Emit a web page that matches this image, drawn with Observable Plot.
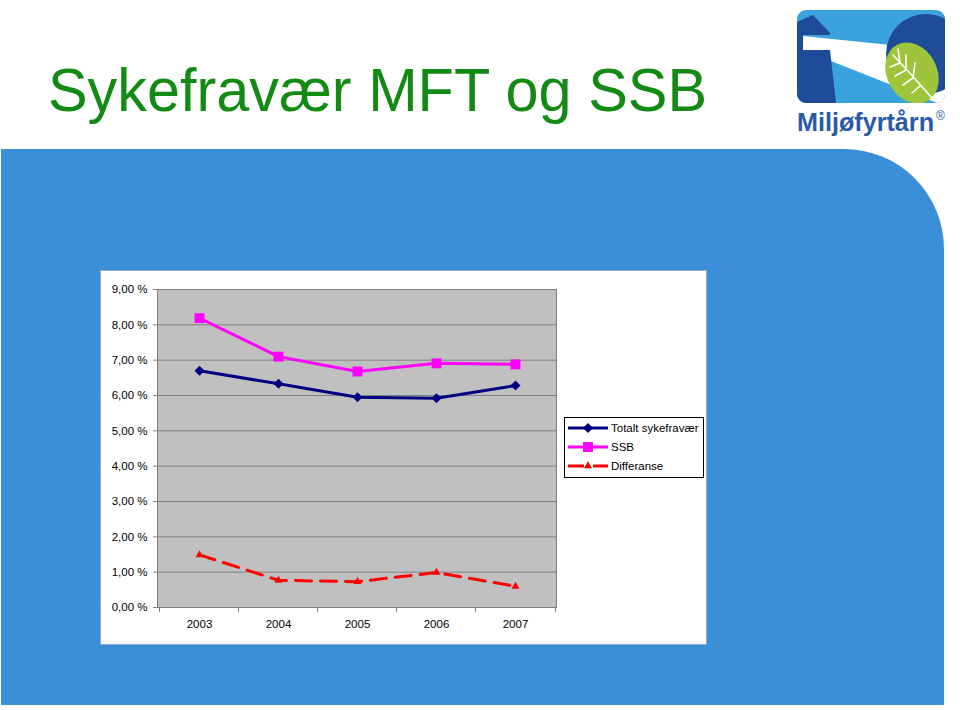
<!DOCTYPE html>
<html><head><meta charset="utf-8">
<script src="https://cdn.jsdelivr.net/npm/d3@7"></script>
<script src="https://cdn.jsdelivr.net/npm/@observablehq/plot@0.6"></script>
<style>
body{margin:0;width:960px;height:710px;position:relative;background:#fff;overflow:hidden;font-family:"Liberation Sans",Arial,sans-serif}
#bg{position:absolute;left:0;top:0}
#chart{position:absolute;left:100px;top:270px}
#legend{position:absolute;left:564px;top:417px}
</style></head><body>
<svg id="bg" width="960" height="710" viewBox="0 0 960 710">
  <!-- title -->
  <text x="48" y="111" font-family="Liberation Sans, Arial, sans-serif" font-size="62" fill="#138a13" textLength="659" lengthAdjust="spacingAndGlyphs">Sykefravær MFT og SSB</text>
  <!-- logo -->
  <defs>
    <clipPath id="card"><rect x="797" y="10" width="148" height="93" rx="9"/></clipPath>
  </defs>
  <g clip-path="url(#card)">
    <rect x="797" y="10" width="148" height="93" fill="#3aa3de"/>
    <polygon points="803,36 900,46 960,100 960,112 803,50" fill="#ffffff"/>
    <polygon points="797,50 830,50 836,103 797,103" fill="#1f4c98"/>
    <polygon points="797,35 797,22 813,15 830,33 830,35" fill="#1f4c98"/>
    <rect x="797" y="35" width="6" height="15" fill="#1f4c98"/>
    <circle cx="926" cy="54" r="40" fill="#1f4c98"/>
    <ellipse cx="912" cy="73" rx="25" ry="32" transform="rotate(-28 912 73)" fill="#9dc43a"/>
    <g stroke="#ffffff" stroke-width="1.6" fill="none" stroke-linecap="round">
      <path d="M893 55 Q912 75 932 98"/>
      <path d="M900 63 L898 49"/><path d="M906 70 L906 55"/><path d="M913 78 L915 63"/>
      <path d="M900 63 L890 67"/><path d="M906 70 L895 76"/><path d="M913 78 L903 85"/><path d="M920 86 L912 93"/>
    </g>
  </g>
  <text x="797" y="131" font-family="Liberation Sans, Arial, sans-serif" font-weight="bold" font-size="25" fill="#2a5aa6" textLength="137" lengthAdjust="spacingAndGlyphs">Miljøfyrtårn</text>
  <text x="936" y="120" font-family="Liberation Sans, Arial, sans-serif" font-size="12" fill="#2a5aa6">®</text>
  <!-- blue panel -->
  <path d="M1 149 H844 A100 100 0 0 1 944 249 V705 H1 Z" fill="#3a8fd8"/>
  <!-- white chart box -->
  <rect x="100.5" y="270.5" width="606" height="374" fill="#ffffff" stroke="#8fa8c8" stroke-width="1"/>
</svg>
<div id="chart"></div>
<div id="legend"></div>
<script>
const years = ["2003", "2004", "2005", "2006", "2007"];
const totalt = [6.70, 6.33, 5.95, 5.92, 6.28];
const ssb = [8.19, 7.10, 6.68, 6.91, 6.88];
const differanse = [1.49, 0.77, 0.73, 0.99, 0.60];
const yTicks = [0, 1, 2, 3, 4, 5, 6, 7, 8, 9];
const yTickLabels = ["0,00 %", "1,00 %", "2,00 %", "3,00 %", "4,00 %", "5,00 %", "6,00 %", "7,00 %", "8,00 %", "9,00 %"];
const seriesNames = ["Totalt sykefravær", "SSB", "Differanse"];
const seriesColors = ["#000080", "#ff00ff", "#ff0000"];

const chart = Plot.plot({
  width: 606,
  height: 375,
  marginLeft: 57,
  marginRight: 150,
  marginTop: 19,
  marginBottom: 38,
  style: {background: "transparent", fontFamily: "Liberation Sans, Arial, sans-serif", fontSize: "11.5px", color: "#000"},
  x: {type: "point", domain: years, padding: 0.5, label: null, tickSize: 0, tickPadding: 12},
  y: {domain: [0, 9], ticks: yTicks, tickFormat: d => yTickLabels[yTicks.indexOf(d)], label: null, tickSize: 0, tickPadding: 10},
  marks: [
    Plot.frame({fill: "#c0c0c0", stroke: "none"}),
    Plot.ruleY(yTicks, {stroke: "#808080", strokeWidth: 1, insetLeft: -4}),
    Plot.ruleX(years, {x: d => d, y1: 0, y2: 0, insetBottom: -5, dx: -40, stroke: "#808080"}),
    Plot.ruleX([years[years.length - 1]], {x: d => d, y1: 0, y2: 0, insetBottom: -5, dx: 40, stroke: "#808080"}),
    Plot.frame({stroke: "#808080", fill: "none"}),
    Plot.line(years, {x: years, y: totalt, stroke: seriesColors[0], strokeWidth: 3}),
    Plot.dot(years, {x: years, y: totalt, symbol: "square", r: 4, rotate: 45, fill: seriesColors[0], stroke: "none"}),
    Plot.line(years, {x: years, y: ssb, stroke: seriesColors[1], strokeWidth: 3}),
    Plot.dot(years, {x: years, y: ssb, symbol: "square", r: 5.6, fill: seriesColors[1], stroke: "none"}),
    Plot.line(years, {x: years, y: differanse, stroke: seriesColors[2], strokeWidth: 3, strokeDasharray: "16,9"}),
    Plot.dot(years, {x: years, y: differanse, symbol: "triangle", r: 3, fill: seriesColors[2], stroke: "none"})
  ]
});
document.getElementById("chart").appendChild(chart);

// legend
const lg = d3.select("#legend").append("svg").attr("width", 141).attr("height", 62);
lg.append("rect").attr("x", 0.5).attr("y", 0.5).attr("width", 139).attr("height", 60).attr("fill", "#fff").attr("stroke", "#000");
const symbols = [d3.symbolSquare, d3.symbolSquare, d3.symbolTriangle];
const sizes = [50, 100, 28];
seriesNames.forEach((name, i) => {
  const cy = 11 + i * 19;
  const g = lg.append("g");
  g.append("line").attr("x1", 4).attr("x2", 44).attr("y1", cy).attr("y2", cy)
    .attr("stroke", seriesColors[i]).attr("stroke-width", 3)
    .attr("stroke-dasharray", i === 2 ? "16,9" : null);
  g.append("path").attr("d", d3.symbol(symbols[i], sizes[i])())
    .attr("transform", `translate(24,${cy})` + (i === 0 ? " rotate(45)" : ""))
    .attr("fill", seriesColors[i]);
  g.append("text").attr("x", 47).attr("y", cy).attr("dy", "0.35em")
    .attr("font-family", "Liberation Sans, Arial, sans-serif").attr("font-size", 11.5).text(name);
});
</script>
</body></html>
